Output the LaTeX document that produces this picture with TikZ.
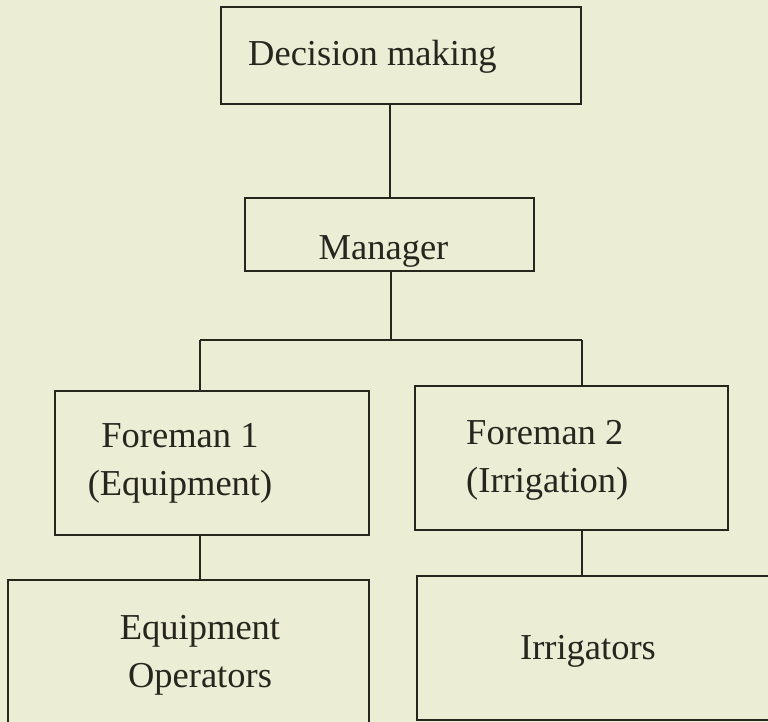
\documentclass[tikz,border=0pt]{standalone}
\usepackage{fontspec}
\setmainfont{Liberation Serif}
\definecolor{paper}{RGB}{236,237,213}
\definecolor{ink}{RGB}{38,38,30}
\begin{document}
\begin{tikzpicture}[x=1pt,y=-1pt,
  box/.style={draw=ink, line width=2.8pt, inner sep=0pt},
  lbl/.style={text=ink, inner sep=0pt, font=\fontsize{36.5}{48}\selectfont},
  link/.style={draw=ink, line width=2.6pt}]
\useasboundingbox[fill=paper] (0,0) rectangle (768,722);
\clip (0,0) rectangle (768,722);
% boxes
\node[box, minimum width=360, minimum height=97] (dm) at (401,55.5) {};
\node[box, minimum width=289, minimum height=73] (mgr) at (389.5,234.5) {};
\node[box, minimum width=314, minimum height=144] (fm1) at (212,463) {};
\node[box, minimum width=313, minimum height=144] (fm2) at (571.5,458) {};
\node[box, minimum width=361, minimum height=180] (ops) at (188.5,670) {};
\node[box, minimum width=383, minimum height=144] (irr) at (608.5,648) {};
% texts (base of a two-line label is its last line)
\node[lbl, anchor=base west] (dmtext) at (248,66) {Decision making};
\node[lbl, anchor=base] (mgrtext) at (383.5,259) {Manager};
\node[lbl, anchor=base, align=center] (fm1text) at (180,495) {Foreman 1\\(Equipment)};
\node[lbl, anchor=base west, align=left] (fm2text) at (466,492) {Foreman 2\\(Irrigation)};
\node[lbl, anchor=base, align=center] (opstext) at (200,687) {Equipment\\Operators};
\node[lbl, anchor=base] (irrtext) at (588,659) {Irrigators};
% connectors
\coordinate (bus) at (391,340);
\coordinate (busl) at (200,340);
\coordinate (busr) at (582,340);
\draw[link] (mgr.north -| 390,0) -- (dm.south -| 390,0);
\draw[link] (mgr.south -| bus) -- (bus);
\draw[link] (busl) -- (busr);
\draw[link] (busl) -- (busl |- fm1.north);
\draw[link] (busr) -- (busr |- fm2.north);
\draw[link] (fm1.south -| busl) -- (ops.north -| busl);
\draw[link] (fm2.south -| busr) -- (irr.north -| busr);
\end{tikzpicture}
\end{document}
